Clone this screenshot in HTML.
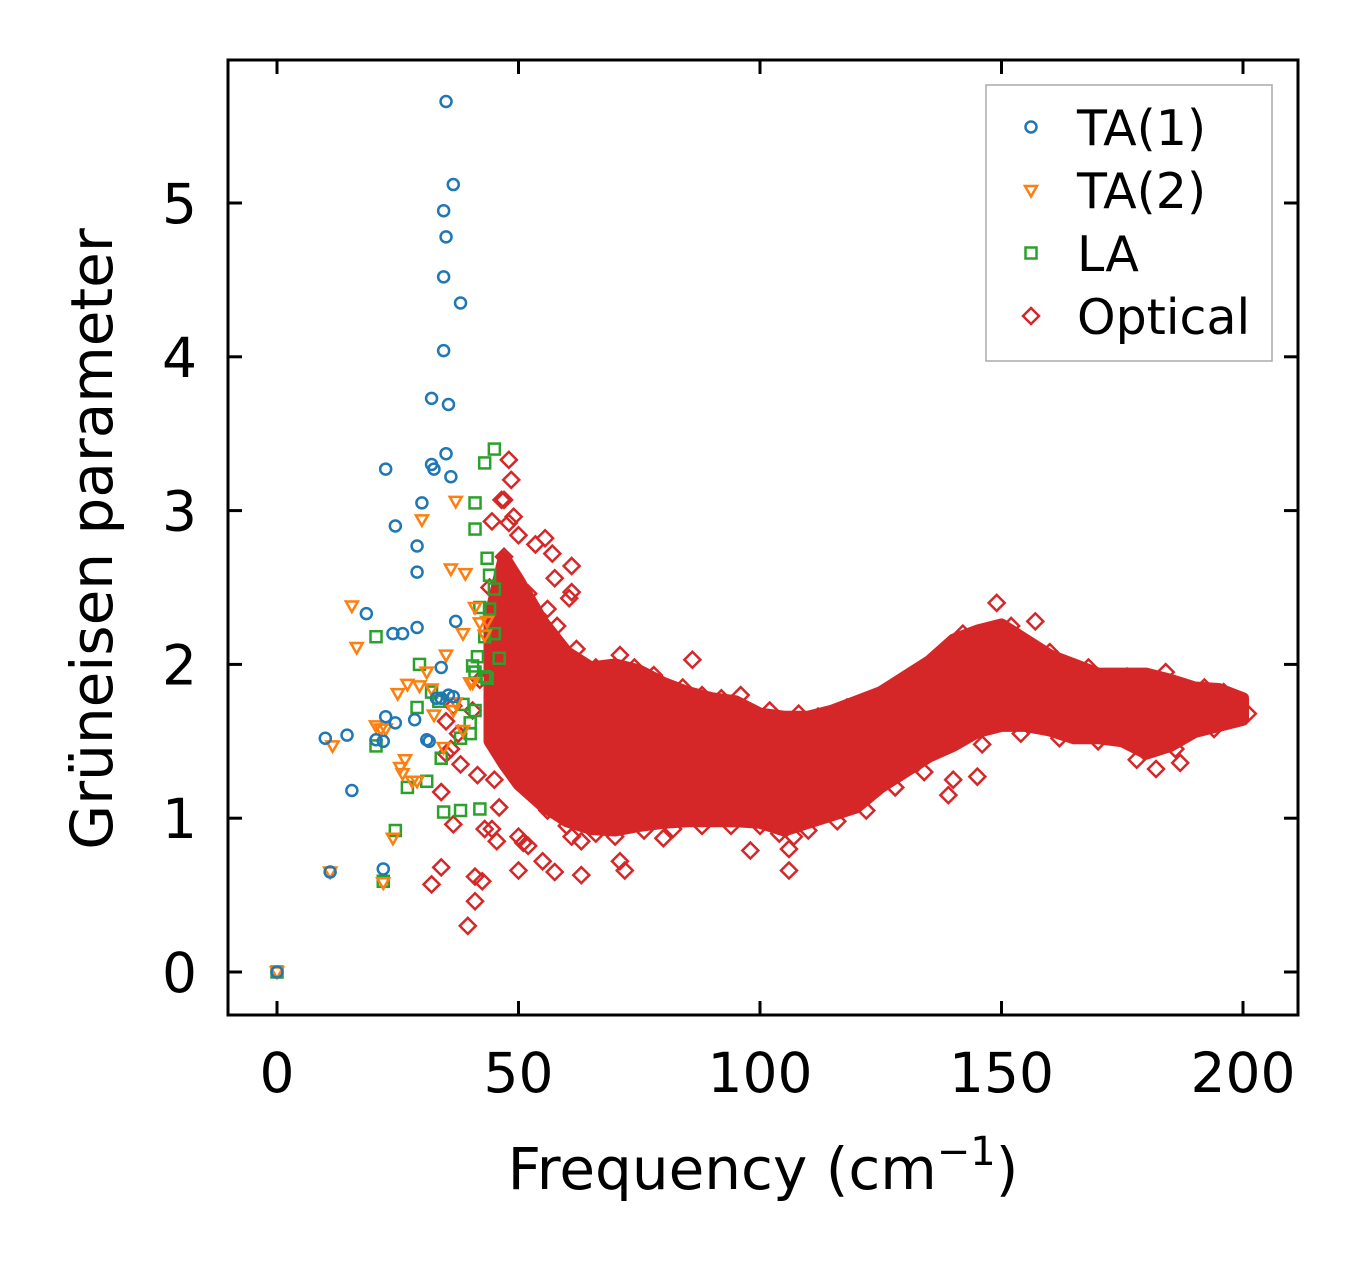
<!DOCTYPE html>
<html><head><meta charset="utf-8"><style>
html,body{margin:0;padding:0;background:#fff}
svg{display:block;font-family:"DejaVu Sans","Liberation Sans",sans-serif}
</style></head><body>
<svg id="chart" width="1359" height="1264" viewBox="0 0 1359 1264" xmlns="http://www.w3.org/2000/svg">
<g id="marks"></g>
<g id="axes"></g>
</svg>
<script>
const xTicks=[0,50,100,150,200];
const yTicks=[0,1,2,3,4,5];
const ta1X=[35,36.5,34.5,35,34.5,38,34.5,32,35.5,35,32,32.5,36,22.5,30,24.5,29,29,37,29,18.5,24,26,34,35.5,34,33,28.5,22.5,24.5,31,31.5,10,14.5,20.5,22,15.5,11,22,0,36.5];
const ta1Y=[5.66,5.12,4.95,4.78,4.52,4.35,4.04,3.73,3.69,3.37,3.30,3.27,3.22,3.27,3.05,2.90,2.77,2.60,2.28,2.24,2.33,2.20,2.20,1.98,1.80,1.78,1.78,1.64,1.66,1.62,1.51,1.50,1.52,1.54,1.51,1.50,1.18,0.65,0.67,0,1.79];
const ta2X=[15.5,16.5,30,37,36,39,42,38.5,35,40,31,32,29.5,27,25,20.5,21.5,22.5,36.5,37,38.5,34.5,32.5,26.5,25.5,26,28,29,11.5,24,11,22,0,41,43,43.5,40.5];
const ta2Y=[2.38,2.11,2.94,3.06,2.62,2.59,2.27,2.20,2.06,1.88,1.95,1.84,1.86,1.87,1.81,1.60,1.58,1.58,1.70,1.75,1.57,1.46,1.67,1.38,1.33,1.29,1.24,1.24,1.47,0.87,0.65,0.58,0,2.37,2.19,2.28,1.88];
const laX=[45,43,41,41,43.5,44,45,42,44,45,43,40.5,41.5,41,43,43.5,46,38.5,29.5,20.5,32,29,33.5,38,40,41,40,20.5,34,31,27,34.5,38,42,24.5,22,0];
const laY=[3.40,3.31,3.05,2.88,2.69,2.58,2.49,2.37,2.36,2.20,2.18,1.99,2.05,1.95,1.92,1.91,2.04,1.74,2.00,2.18,1.82,1.72,1.76,1.52,1.62,1.70,1.55,1.47,1.39,1.24,1.20,1.04,1.05,1.06,0.92,0.59,0];
const optX=[48,48.5,46.5,47,49,48,44.5,50,53.5,55.5,57,61,57.5,61,60.5,56,52,54,86,71,149,157,142,36.5,35,37.5,36,35,38,41.5,45,34,36.5,43,44.5,45.5,46,50,51,52,55,50,57.5,63,72,71,61,63,80,98,106,106,107,34,32,41,42.5,41,39.5,140,139,145,182,187,201,40.5,44,47,46,48,50,52,42,45,
58,62,66,68,74,78,84,88,92,96,102,108,112,118,124,130,136,144,152,160,168,176,184,192,196,
56,60,66,70,76,82,88,94,100,104,110,116,122,128,134,146,154,162,170,178,186,194];
const optY=[3.33,3.20,3.07,3.07,2.96,2.92,2.93,2.84,2.78,2.82,2.72,2.64,2.56,2.47,2.43,2.36,2.46,2.20,2.03,2.06,2.40,2.28,2.20,1.73,1.63,1.55,1.45,1.42,1.35,1.28,1.25,1.17,0.96,0.93,0.93,0.85,1.07,0.88,0.84,0.82,0.72,0.66,0.65,0.63,0.66,0.72,0.88,0.85,0.87,0.79,0.66,0.80,0.88,0.68,0.57,0.62,0.59,0.46,0.30,1.25,1.15,1.27,1.32,1.36,1.68,1.70,2.5,2.7,2.35,2.6,2.3,2.1,1.9,1.6,
2.25,2.1,1.98,1.95,1.98,1.93,1.85,1.8,1.78,1.8,1.7,1.68,1.66,1.72,1.78,1.88,1.98,2.15,2.25,2.08,1.98,1.92,1.95,1.85,1.82,
1.05,0.95,0.9,0.88,0.92,0.93,0.95,0.95,0.95,0.9,0.92,0.98,1.05,1.2,1.3,1.48,1.55,1.52,1.5,1.38,1.45,1.58];
const bandX=[44,47,50,55,60,65,70,75,80,85,90,95,100,105,110,115,120,125,130,135,140,145,150,155,160,165,170,175,180,185,190,195,200];
const bandLo=[1.5,1.35,1.22,1.08,0.98,0.93,0.92,0.95,0.97,0.98,0.98,0.98,0.97,0.92,0.97,1.02,1.07,1.2,1.3,1.4,1.47,1.56,1.6,1.6,1.57,1.52,1.52,1.5,1.42,1.47,1.56,1.6,1.64];
const bandHi=[2.3,2.7,2.55,2.28,2.08,1.98,2.0,1.96,1.88,1.82,1.78,1.76,1.68,1.66,1.66,1.7,1.76,1.82,1.92,2.02,2.16,2.22,2.26,2.16,2.06,2.0,1.94,1.94,1.94,1.9,1.85,1.84,1.78];

const NS="http://www.w3.org/2000/svg";
const L=228,R=1298,T=60,B=1015;
const sx=v=>277+v*(1243-277)/200;
const sy=v=>972-v*(972-203)/5;
const marks=document.getElementById('marks'),axes=document.getElementById('axes');
function mk(tag,attrs,parent){const e=document.createElementNS(NS,tag);for(const k in attrs)e.setAttribute(k,attrs[k]);parent.appendChild(e);return e;}
const C1='#1f77b4',C2='#ff7f0e',C3='#2ca02c',C4='#d62728';

let pts=bandX.map((x,i)=>sx(x)+','+sy(bandHi[i]));
pts=pts.concat(bandX.map((x,i)=>sx(x)+','+sy(bandLo[i])).reverse());
const band=mk('polygon',{points:pts.join(' '),fill:C4,stroke:C4,'stroke-width':12,'stroke-linejoin':'round'},marks);



function diamond(cx,cy,s){return `${cx},${cy-s} ${cx+s},${cy} ${cx},${cy+s} ${cx-s},${cy}`;}
optX.forEach((x,i)=>{const e=mk('polygon',{points:diamond(sx(x),sy(optY[i]),8),fill:'none',stroke:C4,'stroke-width':2.5},marks);

});
laX.forEach((x,i)=>{const e=mk('rect',{x:sx(x)-5.5,y:sy(laY[i])-5.5,width:11,height:11,fill:'none',stroke:C3,'stroke-width':2.5},marks);

});
function tri(cx,cy){return `${cx-6},${cy-4.5} ${cx+6},${cy-4.5} ${cx},${cy+6}`;}
ta2X.forEach((x,i)=>{const e=mk('polygon',{points:tri(sx(x),sy(ta2Y[i])),fill:'none',stroke:C2,'stroke-width':2.5},marks);

});
ta1X.forEach((x,i)=>{const e=mk('circle',{cx:sx(x),cy:sy(ta1Y[i]),r:5.5,fill:'none',stroke:C1,'stroke-width':2.5},marks);

});

const fr=mk('rect',{x:L,y:T,width:R-L,height:B-T,fill:'none',stroke:'#000','stroke-width':3},axes);


xTicks.forEach(v=>{const x=sx(v);
mk('line',{x1:x,y1:B,x2:x,y2:B-14,stroke:'#000','stroke-width':3},axes);
mk('line',{x1:x,y1:T,x2:x,y2:T+14,stroke:'#000','stroke-width':3},axes);
const t=mk('text',{x:x,y:1092,'font-size':55,'text-anchor':'middle',fill:'#000'},axes);t.textContent=v;

});
yTicks.forEach(v=>{const y=sy(v);
mk('line',{x1:L,y1:y,x2:L+14,y2:y,stroke:'#000','stroke-width':3},axes);
mk('line',{x1:R,y1:y,x2:R-14,y2:y,stroke:'#000','stroke-width':3},axes);
const t=mk('text',{x:197,y:y+20,'font-size':55,'text-anchor':'end',fill:'#000'},axes);t.textContent=v;

});
</script>
<svg style="position:absolute;left:0;top:0" width="1359" height="1264">
<text x="763" y="1189" font-size="58" text-anchor="middle" font-family="DejaVu Sans,Liberation Sans,sans-serif">Frequency (cm<tspan font-size="40" dy="-24">−1</tspan><tspan dy="24">)</tspan></text>
<text transform="translate(112,539) rotate(-90)" font-size="58" text-anchor="middle" font-family="DejaVu Sans,Liberation Sans,sans-serif">Grüneisen parameter</text>
<g font-family="DejaVu Sans,Liberation Sans,sans-serif" font-size="49">
<rect x="986" y="85" width="286" height="276" fill="#fff" stroke="#aaa" stroke-width="1.5"/>
<circle cx="1031" cy="127" r="5.5" fill="none" stroke="#1f77b4" stroke-width="2.5"/>
<text x="1077" y="145">TA(1)</text>
<polygon points="1025,186 1037,186 1031,196.5" fill="none" stroke="#ff7f0e" stroke-width="2.5"/>
<text x="1077" y="208">TA(2)</text>
<rect x="1025.5" y="247.5" width="11" height="11" fill="none" stroke="#2ca02c" stroke-width="2.5"/>
<text x="1077" y="271">LA</text>
<polygon points="1031,308 1039,316 1031,324 1023,316" fill="none" stroke="#d62728" stroke-width="2.5"/>
<text x="1077" y="334">Optical</text>
</g>
</svg>
</body></html>
